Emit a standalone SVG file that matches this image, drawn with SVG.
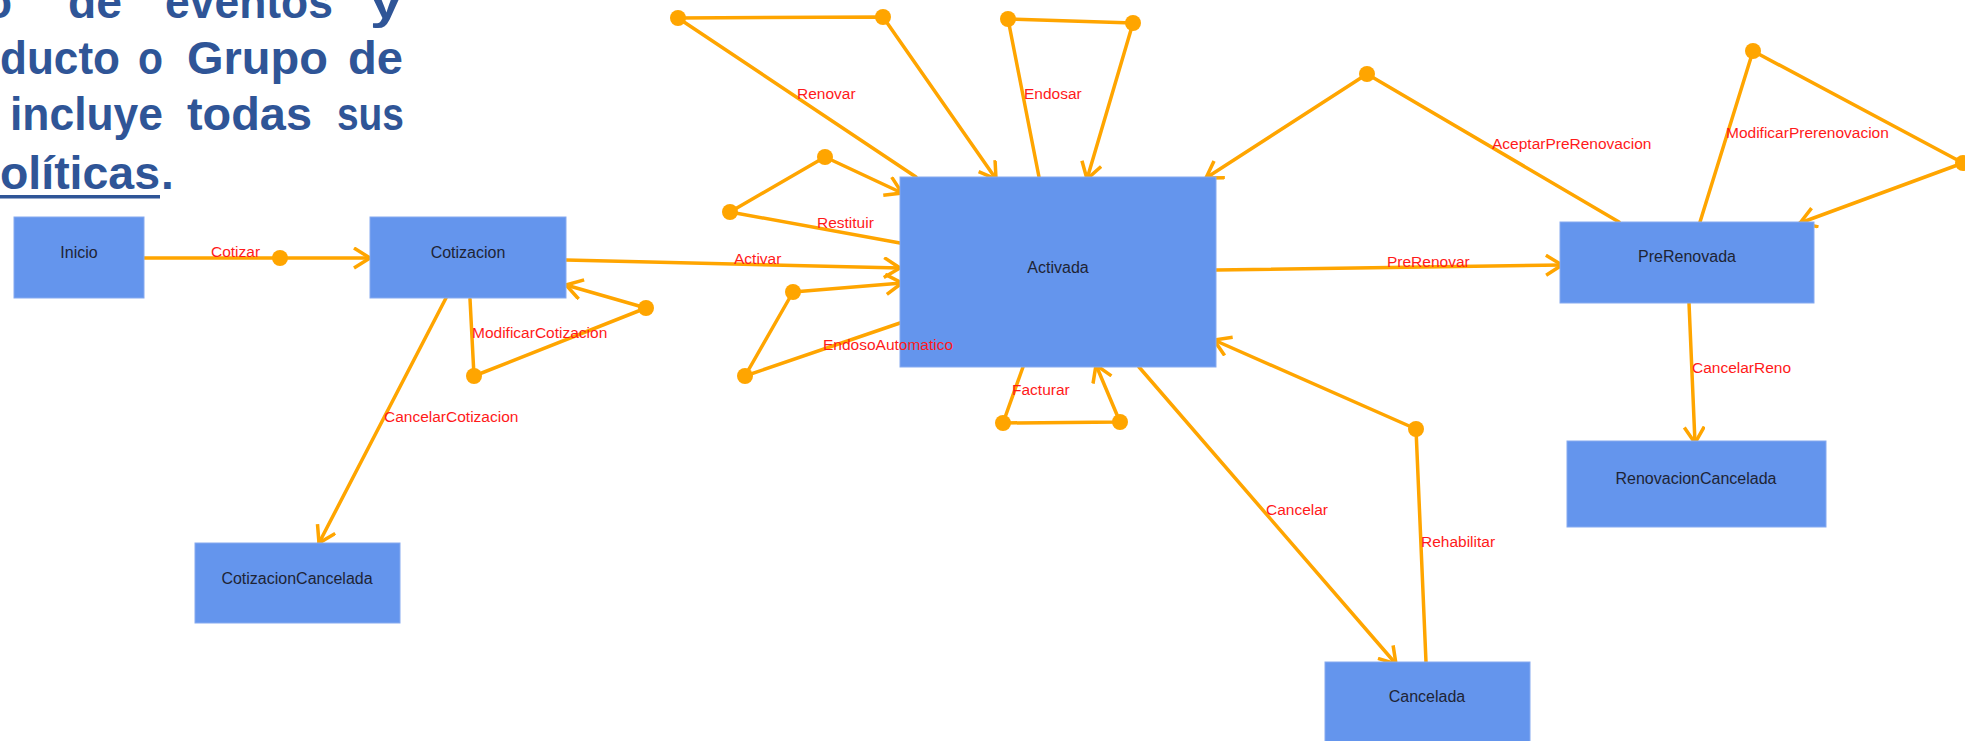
<svg xmlns="http://www.w3.org/2000/svg" width="1965" height="741" viewBox="0 0 1965 741">
<style>
.title{font-family:"Liberation Sans",Arial,sans-serif;font-weight:bold;font-size:46px;fill:#2F5597}
.box{fill:#6495ED;stroke:#86aaf0;stroke-width:1}
.ntext{font-family:"Liberation Sans",Arial,sans-serif;font-size:16px;fill:#1e2435;text-anchor:middle}
.conn{fill:none;stroke:#FFA500;stroke-width:3.5;stroke-linejoin:round;stroke-linecap:round}
.dot{fill:#FFA500}
.lbl{font-family:"Liberation Sans",Arial,sans-serif;font-size:15.5px;fill:#FF1a1a}
</style>
<defs>
<marker id="arr" markerUnits="userSpaceOnUse" markerWidth="22" markerHeight="24" refX="17" refY="11" orient="auto">
<path d="M1,1 L17,11 L1,21" fill="none" stroke="#FFA500" stroke-width="3.5" stroke-linejoin="miter"/>
</marker>
</defs>
<rect width="1965" height="741" fill="#ffffff"/>
<g id="title">
<text class="title" x="12" y="18" text-anchor="end">o</text>
<text class="title" x="68" y="18" textLength="54" lengthAdjust="spacingAndGlyphs">de</text>
<text class="title" x="165" y="18" textLength="168" lengthAdjust="spacingAndGlyphs">eventos</text>
<text class="title" x="370" y="18" textLength="32" lengthAdjust="spacingAndGlyphs">y</text>
<text class="title" x="0" y="74" textLength="120" lengthAdjust="spacingAndGlyphs">ducto</text>
<text class="title" x="138" y="74" textLength="25" lengthAdjust="spacingAndGlyphs">o</text>
<text class="title" x="187" y="74" textLength="141" lengthAdjust="spacingAndGlyphs">Grupo</text>
<text class="title" x="348" y="74" textLength="55" lengthAdjust="spacingAndGlyphs">de</text>
<text class="title" x="10" y="130" textLength="153" lengthAdjust="spacingAndGlyphs">incluye</text>
<text class="title" x="187" y="130" textLength="125" lengthAdjust="spacingAndGlyphs">todas</text>
<text class="title" x="337" y="130" textLength="67" lengthAdjust="spacingAndGlyphs">sus</text>
<text class="title" x="0" y="189" textLength="160" lengthAdjust="spacingAndGlyphs">olíticas</text>
<rect x="0" y="195" width="160" height="3.5" fill="#2F5597"/>
<text class="title" x="161" y="189">.</text>
</g>
<g id="connectors">
<path class="conn" d="M144,258 L370,258" marker-end="url(#arr)"/>
<circle class="dot" cx="280" cy="258" r="8"/>
<path class="conn" d="M470,299 L474,376 L646,308 L566,285" marker-end="url(#arr)"/>
<circle class="dot" cx="474" cy="376" r="8"/>
<circle class="dot" cx="646" cy="308" r="8"/>
<path class="conn" d="M446,298 L319,543" marker-end="url(#arr)"/>
<path class="conn" d="M566,260 L900,268" marker-end="url(#arr)"/>
<path class="conn" d="M900,243 L730,212 L825,157 L902,193" marker-end="url(#arr)"/>
<circle class="dot" cx="730" cy="212" r="8"/>
<circle class="dot" cx="825" cy="157" r="8"/>
<path class="conn" d="M900,323 L745,376 L793,292 L902,283" marker-end="url(#arr)"/>
<circle class="dot" cx="745" cy="376" r="8"/>
<circle class="dot" cx="793" cy="292" r="8"/>
<path class="conn" d="M916,177 L678,18 L883,17 L996,179" marker-end="url(#arr)"/>
<circle class="dot" cx="678" cy="18" r="8"/>
<circle class="dot" cx="883" cy="17" r="8"/>
<path class="conn" d="M1039,177 L1008,19 L1133,23 L1087,179" marker-end="url(#arr)"/>
<circle class="dot" cx="1008" cy="19" r="8"/>
<circle class="dot" cx="1133" cy="23" r="8"/>
<path class="conn" d="M1023,367 L1003,423 L1120,422 L1096,365" marker-end="url(#arr)"/>
<circle class="dot" cx="1003" cy="423" r="8"/>
<circle class="dot" cx="1120" cy="422" r="8"/>
<path class="conn" d="M1216,270 L1562,265" marker-end="url(#arr)"/>
<path class="conn" d="M1619,222 L1367,74 L1206,178" marker-end="url(#arr)"/>
<circle class="dot" cx="1367" cy="74" r="8"/>
<path class="conn" d="M1700,222 L1753,51 L1963,163 L1800,223" marker-end="url(#arr)"/>
<circle class="dot" cx="1753" cy="51" r="8"/>
<circle class="dot" cx="1963" cy="163" r="8"/>
<path class="conn" d="M1689,303 L1695,443" marker-end="url(#arr)"/>
<path class="conn" d="M1139,367 L1396,664" marker-end="url(#arr)"/>
<path class="conn" d="M1426,662 L1416,429 L1214,340" marker-end="url(#arr)"/>
<circle class="dot" cx="1416" cy="429" r="8"/>
</g>
<g id="node-inicio"><rect class="box" x="14" y="217" width="130" height="81"/><text class="ntext" x="79" y="258">Inicio</text></g>
<g id="node-cotizacion"><rect class="box" x="370" y="217" width="196" height="81"/><text class="ntext" x="468" y="258">Cotizacion</text></g>
<g id="node-cotizacioncancelada"><rect class="box" x="195" y="543" width="205" height="80"/><text class="ntext" x="297" y="584">CotizacionCancelada</text></g>
<g id="node-activada"><rect class="box" x="900" y="177" width="316" height="190"/><text class="ntext" x="1058" y="273">Activada</text></g>
<g id="node-prerenovada"><rect class="box" x="1560" y="222" width="254" height="81"/><text class="ntext" x="1687" y="262">PreRenovada</text></g>
<g id="node-renovacioncancelada"><rect class="box" x="1567" y="441" width="259" height="86"/><text class="ntext" x="1696" y="484">RenovacionCancelada</text></g>
<g id="node-cancelada"><rect class="box" x="1325" y="662" width="205" height="82"/><text class="ntext" x="1427" y="702">Cancelada</text></g>
<g id="labels">
<text class="lbl" x="211" y="257">Cotizar</text>
<text class="lbl" x="472" y="338">ModificarCotizacion</text>
<text class="lbl" x="384" y="422">CancelarCotizacion</text>
<text class="lbl" x="734" y="264">Activar</text>
<text class="lbl" x="817" y="228">Restituir</text>
<text class="lbl" x="823" y="350">EndosoAutomatico</text>
<text class="lbl" x="797" y="99">Renovar</text>
<text class="lbl" x="1024" y="99">Endosar</text>
<text class="lbl" x="1012" y="395">Facturar</text>
<text class="lbl" x="1387" y="267">PreRenovar</text>
<text class="lbl" x="1492" y="149">AceptarPreRenovacion</text>
<text class="lbl" x="1726" y="138">ModificarPrerenovacion</text>
<text class="lbl" x="1692" y="373">CancelarReno</text>
<text class="lbl" x="1266" y="515">Cancelar</text>
<text class="lbl" x="1421" y="547">Rehabilitar</text>
</g>
</svg>
